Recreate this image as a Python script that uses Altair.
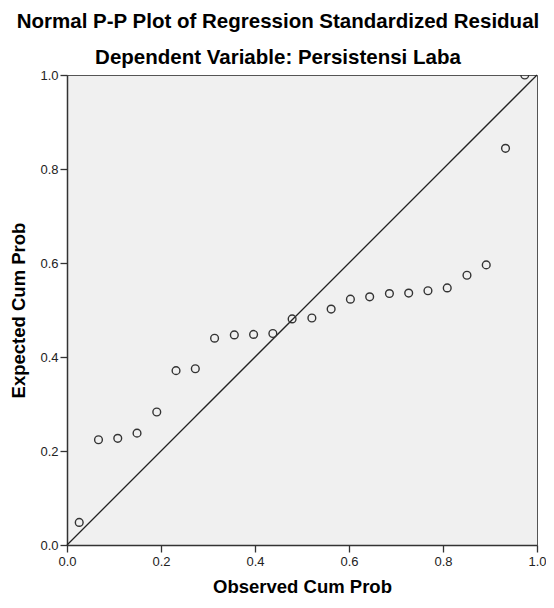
import altair as alt
import pandas as pd

observed = [0.026, 0.067, 0.108, 0.149, 0.191, 0.232, 0.273, 0.314, 0.356, 0.397,
            0.438, 0.479, 0.521, 0.562, 0.603, 0.644, 0.686, 0.727, 0.768, 0.809,
            0.851, 0.892, 0.933, 0.974]
expected = [0.048, 0.224, 0.227, 0.238, 0.283, 0.371, 0.375, 0.440, 0.447, 0.448,
            0.450, 0.481, 0.483, 0.502, 0.523, 0.528, 0.535, 0.536, 0.541, 0.547,
            0.574, 0.596, 0.844, 1.000]
diag_x = [0.0, 1.0]
diag_y = [0.0, 1.0]
ticks = [0.0, 0.2, 0.4, 0.6, 0.8, 1.0]

pts = pd.DataFrame({"obs": observed, "exp": expected})
diag = pd.DataFrame({"obs": diag_x, "exp": diag_y})

FONT = "Liberation Sans"

xenc = alt.X("obs:Q", scale=alt.Scale(domain=[0, 1], nice=False, zero=False),
             axis=alt.Axis(values=ticks, format=".1f", title="Observed Cum Prob"))
yenc = alt.Y("exp:Q", scale=alt.Scale(domain=[0, 1], nice=False, zero=False),
             axis=alt.Axis(values=ticks, format=".1f", title="Expected Cum Prob"))

line = alt.Chart(diag).mark_line(color="#222", strokeWidth=1.3).encode(x=xenc, y=yenc)
points = alt.Chart(pts).mark_point(shape="circle", filled=False, size=60,
                                   strokeWidth=1.4, color="#333", opacity=1,
                                   clip=True).encode(x=xenc, y=yenc)

chart = (line + points).properties(
    width=470, height=470,
    autosize=alt.AutoSizeParams(type="none"),
    padding={"left": 59, "top": 67, "right": 9, "bottom": 50},
    title=alt.TitleParams(
        text="Normal P-P Plot of Regression Standardized Residual",
        subtitle="Dependent Variable: Persistensi Laba",
        font=FONT, subtitleFont=FONT,
        fontSize=20.5, subtitleFontSize=20.5,
        fontWeight="bold", subtitleFontWeight="bold",
        color="#000", subtitleColor="#000",
        anchor="middle", frame="bounds",
        subtitlePadding=16, offset=0.5,
    ),
).configure_view(
    fill="#F0F0F0", stroke="#555", strokeWidth=1
).configure_axis(
    grid=False, domainColor="#333", domainWidth=1.5,
    tickColor="#333", tickSize=7, tickWidth=1.3, labelFlush=False,
    labelFont=FONT, labelFontSize=13, labelColor="#222",
    titleFont=FONT, titleFontSize=18.5, titleFontWeight="bold", titleColor="#000",
).configure_axisX(
    labelPadding=3, titlePadding=9
).configure_axisY(
    labelPadding=2, titlePadding=11
)

chart.save("out.html", embed_options={"renderer": "svg", "actions": False})
